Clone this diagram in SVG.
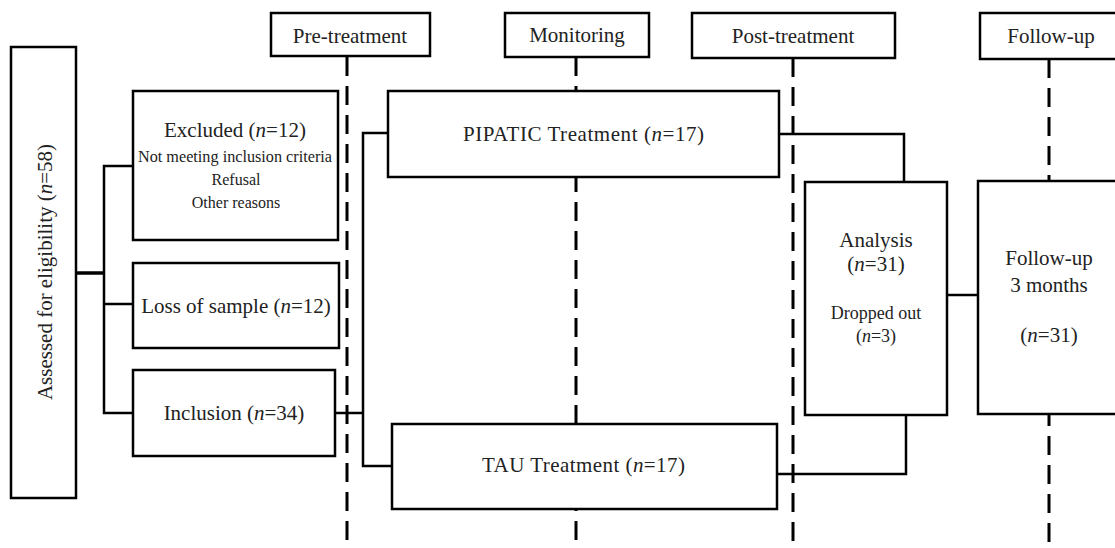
<svg xmlns="http://www.w3.org/2000/svg" width="1115" height="548" viewBox="0 0 1115 548">
<style>
.box{fill:#fff;stroke:#000;stroke-width:2.5}
.dash{fill:none;stroke:#000;stroke-width:3;stroke-dasharray:19 10}
.ln{fill:none;stroke:#000;stroke-width:2.5}
text{font-family:"Liberation Serif","Times New Roman",serif;fill:#222;text-anchor:middle}
.t21{font-size:21px}
.t16{font-size:16px}
.t18{font-size:18px}
.i{font-style:italic}
</style>
<rect width="1115" height="548" fill="#fff"/>
<g id="timeline">
<line class="dash" x1="347" y1="57" x2="347" y2="548"/>
<line class="dash" x1="576" y1="57" x2="576" y2="548"/>
<line class="dash" x1="793" y1="58" x2="793" y2="548"/>
<line class="dash" x1="1049" y1="59" x2="1049" y2="548"/>
</g>
<g id="connectors">
<line class="ln" x1="76" y1="273" x2="104" y2="273" style="stroke-width:3.5"/>
<polyline class="ln" points="133,166 104,166 104,413 133,413"/>
<line class="ln" x1="104" y1="304" x2="133" y2="304"/>
<line class="ln" x1="335" y1="413" x2="363" y2="413"/>
<polyline class="ln" points="388,133 363,133 363,466 392,466"/>
<polyline class="ln" points="779,134 904,134 904,182"/>
<polyline class="ln" points="777,474 906,474 906,415"/>
<line class="ln" x1="947" y1="295" x2="978" y2="295"/>
</g>
<g id="hdr-pre"><rect class="box" x="271" y="13" width="159" height="43"/><text class="t21" x="350" y="43">Pre-treatment</text></g>
<g id="hdr-mon"><rect class="box" x="505" y="13" width="144" height="44"/><text class="t21" x="577" y="42">Monitoring</text></g>
<g id="hdr-post"><rect class="box" x="692" y="13" width="203" height="45"/><text class="t21" x="793" y="43">Post-treatment</text></g>
<g id="hdr-fu"><rect class="box" x="980" y="13" width="140" height="46"/><text class="t21" x="1051" y="43">Follow-up</text></g>
<g id="assessed"><rect class="box" x="11" y="47" width="65" height="451"/><text class="t21" transform="translate(52,272) rotate(-90)" x="0" y="0">Assessed for eligibility (<tspan class="i">n</tspan>=58)</text></g>
<g id="excluded"><rect class="box" x="133" y="91" width="205" height="149"/>
<text class="t21" x="235" y="137">Excluded (<tspan class="i">n</tspan>=12)</text>
<text class="t16" x="235" y="162" textLength="194" lengthAdjust="spacingAndGlyphs">Not meeting inclusion criteria</text>
<text class="t16" x="236" y="185">Refusal</text>
<text class="t16" x="236" y="208">Other reasons</text></g>
<g id="loss"><rect class="box" x="133" y="263" width="206" height="85"/><text class="t21" x="236" y="313">Loss of sample (<tspan class="i">n</tspan>=12)</text></g>
<g id="inclusion"><rect class="box" x="133" y="370" width="202" height="86"/><text class="t21" x="234" y="420">Inclusion (<tspan class="i">n</tspan>=34)</text></g>
<g id="pipatic"><rect class="box" x="388" y="91" width="391" height="86"/><text class="t21" x="583.5" y="141" textLength="241" lengthAdjust="spacing">PIPATIC Treatment (<tspan class="i">n</tspan>=17)</text></g>
<g id="tau"><rect class="box" x="392" y="424" width="385" height="85"/><text class="t21" x="583.5" y="472" textLength="203" lengthAdjust="spacing">TAU Treatment (<tspan class="i">n</tspan>=17)</text></g>
<g id="analysis"><rect class="box" x="805" y="182" width="142" height="233"/>
<text class="t21" x="876" y="247">Analysis</text>
<text class="t21" x="876" y="271">(<tspan class="i">n</tspan>=31)</text>
<text class="t18" x="876" y="319">Dropped out</text>
<text class="t18" x="876" y="342">(<tspan class="i">n</tspan>=3)</text></g>
<g id="followup"><rect class="box" x="978" y="181" width="142" height="233"/>
<text class="t21" x="1049" y="265">Follow-up</text>
<text class="t21" x="1049" y="292">3 months</text>
<text class="t21" x="1049" y="342">(<tspan class="i">n</tspan>=31)</text></g>
</svg>
